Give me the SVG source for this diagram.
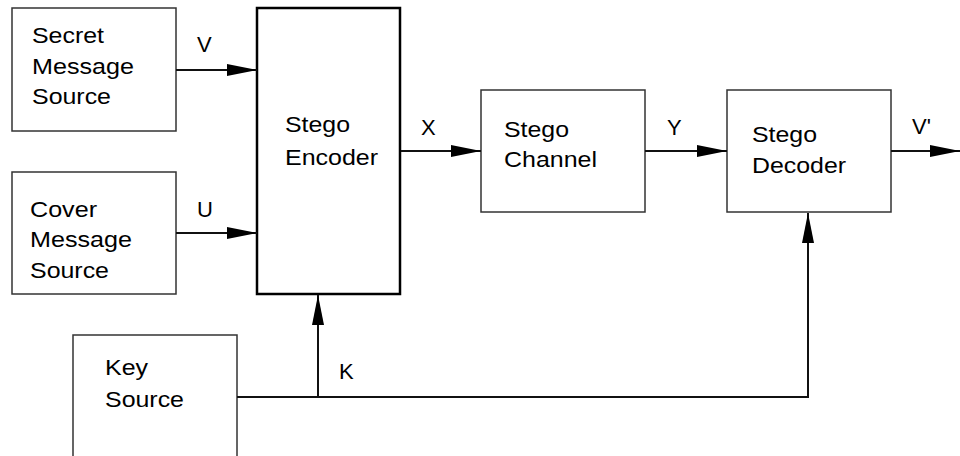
<svg xmlns="http://www.w3.org/2000/svg" width="960" height="456" viewBox="0 0 960 456">
  <style>
    .box { fill: #ffffff; stroke: #333333; stroke-width: 1.5; }
    .box-main { fill: #ffffff; stroke: #000000; stroke-width: 2.5; }
    .wire { fill: none; stroke: #111111; stroke-width: 2; }
    text { font-family: "Liberation Sans", Arial, sans-serif; font-size: 22px; fill: #000000; }
  </style>
  <defs>
    <marker id="arrow" markerUnits="userSpaceOnUse" markerWidth="30" markerHeight="12" refX="30" refY="6" orient="auto">
      <path d="M0,0 L30,6 L0,12 Z" fill="#000000"/>
    </marker>
  </defs>

  <rect width="960" height="456" fill="#ffffff"/>

  <g id="secret-source">
    <rect class="box" x="12" y="8" width="164" height="123"/>
    <text x="32" y="43" textLength="72" lengthAdjust="spacingAndGlyphs">Secret</text>
    <text x="32" y="74" textLength="102" lengthAdjust="spacingAndGlyphs">Message</text>
    <text x="32" y="104" textLength="79" lengthAdjust="spacingAndGlyphs">Source</text>
  </g>

  <g id="cover-source">
    <rect class="box" x="12" y="172" width="164" height="122"/>
    <text x="30" y="217" textLength="67" lengthAdjust="spacingAndGlyphs">Cover</text>
    <text x="30" y="247" textLength="102" lengthAdjust="spacingAndGlyphs">Message</text>
    <text x="30" y="278" textLength="79" lengthAdjust="spacingAndGlyphs">Source</text>
  </g>

  <g id="key-source">
    <rect class="box" x="73" y="335" width="164" height="135"/>
    <text x="105" y="375" textLength="43" lengthAdjust="spacingAndGlyphs">Key</text>
    <text x="105" y="407" textLength="79" lengthAdjust="spacingAndGlyphs">Source</text>
  </g>

  <g id="stego-encoder">
    <rect class="box-main" x="257" y="8" width="143" height="286"/>
    <text x="285" y="132" textLength="65" lengthAdjust="spacingAndGlyphs">Stego</text>
    <text x="285" y="165" textLength="93" lengthAdjust="spacingAndGlyphs">Encoder</text>
  </g>

  <g id="stego-channel">
    <rect class="box" x="481" y="90" width="164" height="122"/>
    <text x="504" y="137" textLength="65" lengthAdjust="spacingAndGlyphs">Stego</text>
    <text x="504" y="167" textLength="93" lengthAdjust="spacingAndGlyphs">Channel</text>
  </g>

  <g id="stego-decoder">
    <rect class="box" x="727" y="90" width="164" height="122"/>
    <text x="752" y="142" textLength="65" lengthAdjust="spacingAndGlyphs">Stego</text>
    <text x="752" y="173" textLength="94" lengthAdjust="spacingAndGlyphs">Decoder</text>
  </g>

  <g id="connectors">
    <line class="wire" x1="176" y1="70" x2="257" y2="70" marker-end="url(#arrow)"/>
    <line class="wire" x1="176" y1="233" x2="257" y2="233" marker-end="url(#arrow)"/>
    <line class="wire" x1="401" y1="151" x2="481" y2="151" marker-end="url(#arrow)"/>
    <line class="wire" x1="645" y1="151" x2="727" y2="151" marker-end="url(#arrow)"/>
    <line class="wire" x1="891" y1="151" x2="960" y2="151" marker-end="url(#arrow)"/>
    <polyline class="wire" points="237,397 808,397 808,213" marker-end="url(#arrow)"/>
    <line class="wire" x1="318" y1="397" x2="318" y2="295" marker-end="url(#arrow)"/>
  </g>

  <g id="connector-labels">
    <text x="197" y="52">V</text>
    <text x="197" y="217">U</text>
    <text x="421" y="135">X</text>
    <text x="667" y="135">Y</text>
    <text x="912" y="134">V'</text>
    <text x="339" y="379">K</text>
  </g>
</svg>
